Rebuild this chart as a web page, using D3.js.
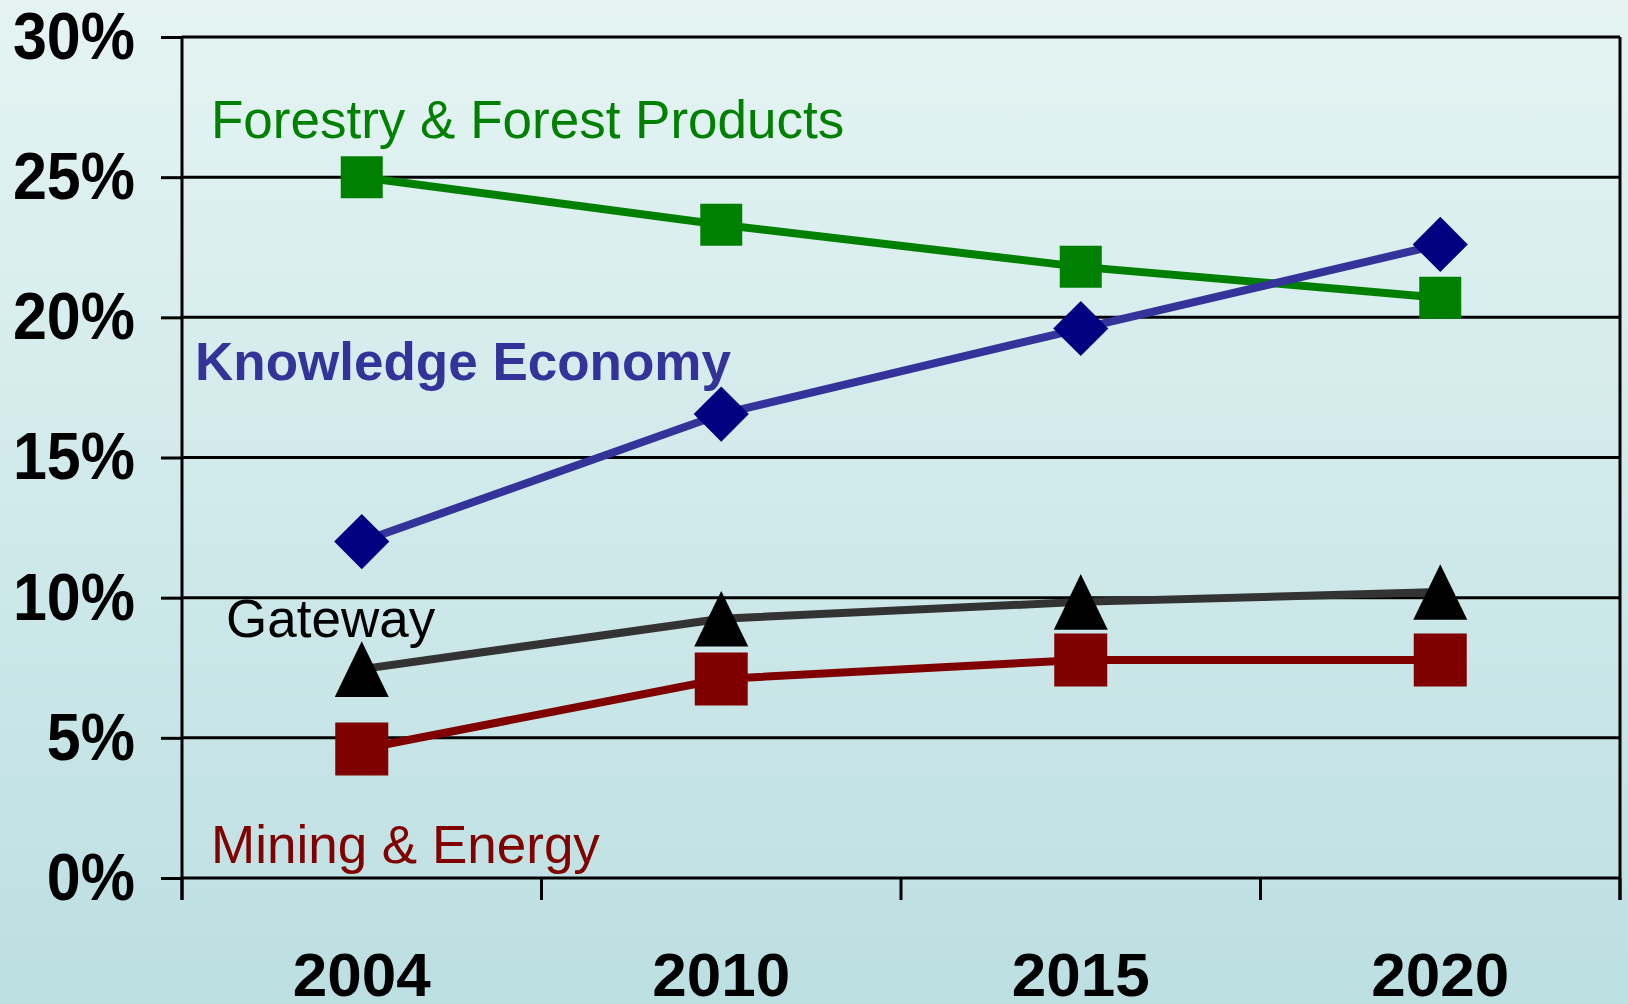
<!DOCTYPE html>
<html>
<head>
<meta charset="utf-8">
<script src="https://cdn.jsdelivr.net/npm/d3@7"></script>
<style>
  html, body { margin: 0; padding: 0; }
  body { width: 1628px; height: 1004px; overflow: hidden; }
</style>
</head>
<body>
<div id="chart"></div>
<script>
// years along the x axis
var years = ["2004", "2010", "2015", "2020"];
// y axis ticks, in percent
var yTicks = [0, 5, 10, 15, 20, 25, 30];

// series values (percent)
var forestry = [25.0, 23.3, 21.8, 20.7];
var knowledge = [12.0, 16.55, 19.6, 22.6];
var gateway = [7.45, 9.25, 9.85, 10.2];
var mining = [4.6, 7.1, 7.78, 7.78];

var seriesNames = ["Forestry & Forest Products", "Knowledge Economy", "Gateway", "Mining & Energy"];

var W = 1628, H = 1004;
var margin = {top: 37, right: 8, bottom: 126, left: 182},
    width = W - margin.left - margin.right,
    height = H - margin.top - margin.bottom;

var svg = d3.select("#chart").append("svg")
    .attr("width", W)
    .attr("height", H);

// background gradient
var grad = svg.append("defs").append("linearGradient")
    .attr("id", "bg")
    .attr("x1", 0).attr("y1", 0).attr("x2", 0).attr("y2", 1);
grad.append("stop").attr("offset", "0%").attr("stop-color", "#e5f4f3");
grad.append("stop").attr("offset", "100%").attr("stop-color", "#bcdfe2");
svg.append("rect").attr("width", W).attr("height", H).attr("fill", "url(#bg)");

var g = svg.append("g")
    .attr("transform", "translate(" + margin.left + "," + margin.top + ")");

var x = d3.scaleBand().domain(years).range([0, width]).padding(0);
var y = d3.scaleLinear().domain([0, 30]).range([height, 0]);

var font = "'Liberation Sans', Arial, sans-serif";

// gridlines
g.selectAll(".grid")
    .data(yTicks)
  .enter().append("line")
    .attr("x1", 0).attr("x2", width)
    .attr("y1", function(d) { return y(d); })
    .attr("y2", function(d) { return y(d); })
    .attr("stroke", "#000")
    .attr("stroke-width", 3);

// right border
g.append("line")
    .attr("x1", width).attr("x2", width)
    .attr("y1", 0).attr("y2", height + 22)
    .attr("stroke", "#000").attr("stroke-width", 3);

// y axis
var yAxis = g.append("g")
    .call(d3.axisLeft(y).tickValues(yTicks).tickSize(21).tickPadding(26)
      .tickFormat(function(d) { return d + "%"; }));
yAxis.select(".domain").remove();
yAxis.selectAll("line").attr("stroke-width", 3);
yAxis.selectAll("text")
    .attr("fill", "#000")
    .style("font-family", font)
    .style("font-size", "61px")
    .style("font-weight", "bold")
    .attr("transform", "scale(1,1.1)");

// left axis line extends below 0
g.append("line")
    .attr("x1", 0).attr("x2", 0)
    .attr("y1", 0).attr("y2", height + 22)
    .attr("stroke", "#000").attr("stroke-width", 3);

// x category boundary ticks
var bounds = years.map(function(d) { return x(d); }).concat([width]);
g.selectAll(".xtick")
    .data(bounds)
  .enter().append("line")
    .attr("x1", function(d) { return d; })
    .attr("x2", function(d) { return d; })
    .attr("y1", height).attr("y2", height + 22)
    .attr("stroke", "#000").attr("stroke-width", 3);

// x axis labels
var xAxis = g.append("g")
    .attr("transform", "translate(0," + height + ")")
    .call(d3.axisBottom(x).tickSize(0).tickPadding(74));
xAxis.select(".domain").remove();
xAxis.selectAll("text")
    .attr("fill", "#000")
    .style("font-family", font)
    .style("font-size", "62px")
    .style("font-weight", "bold");

function cx(i) { return x(years[i]) + x.bandwidth() / 2; }

var line = d3.line()
    .x(function(d, i) { return cx(i); })
    .y(function(d) { return y(d); });

// a triangle slightly taller than wide
var tallTriangle = {
  draw: function(ctx, size) {
    var w = Math.sqrt(size), h = w * 1.03;
    ctx.moveTo(0, -h / 2);
    ctx.lineTo(w / 2, h / 2);
    ctx.lineTo(-w / 2, h / 2);
    ctx.closePath();
  }
};

function drawSeries(vals, lineColor, markColor, symbol, size, rotate) {
  g.append("path")
      .datum(vals)
      .attr("fill", "none")
      .attr("stroke", lineColor)
      .attr("stroke-width", 8)
      .attr("d", line);
  g.selectAll(null)
      .data(vals)
    .enter().append("path")
      .attr("d", d3.symbol().type(symbol).size(size))
      .attr("transform", function(d, i) {
        return "translate(" + cx(i) + "," + y(d) + ")" + (rotate ? " rotate(" + rotate + ")" : "");
      })
      .attr("fill", markColor);
}

drawSeries(forestry, "#008000", "#008000", d3.symbolSquare, 42 * 42);
drawSeries(knowledge, "#333399", "#000080", d3.symbolSquare, 39 * 39, 45);
drawSeries(gateway, "#333333", "#000000", tallTriangle, 54 * 54);
drawSeries(mining, "#800000", "#800000", d3.symbolSquare, 53 * 53);

// series labels
var labels = [
  {text: seriesNames[0], x: 211, y: 138, color: "#008000", weight: "normal"},
  {text: seriesNames[1], x: 195, y: 380, color: "#333399", weight: "bold"},
  {text: seriesNames[2], x: 226, y: 637, color: "#000000", weight: "normal"},
  {text: seriesNames[3], x: 211, y: 863, color: "#800000", weight: "normal"}
];
svg.selectAll(".lbl")
    .data(labels)
  .enter().append("text")
    .attr("x", function(d) { return d.x; })
    .attr("y", function(d) { return d.y; })
    .attr("fill", function(d) { return d.color; })
    .style("font-family", font)
    .style("font-size", "53px")
    .style("font-weight", function(d) { return d.weight; })
    .text(function(d) { return d.text; });
</script>
</body>
</html>
